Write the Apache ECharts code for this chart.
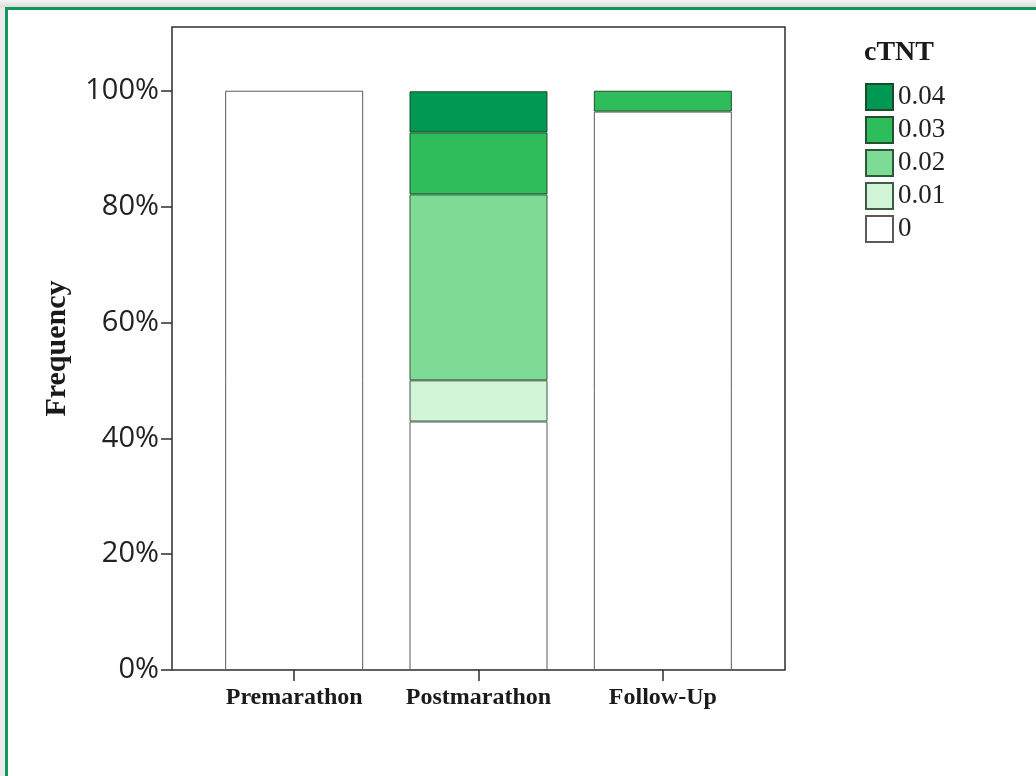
<!DOCTYPE html>
<html>
<head>
<meta charset="utf-8">
<script src="https://cdn.jsdelivr.net/npm/echarts@6/dist/echarts.min.js"></script>
<style>
  html, body { margin: 0; padding: 0; }
  body { width: 1036px; height: 776px; position: relative; overflow: hidden;
         background: linear-gradient(to bottom, #f4f4f4 0px, #dcdcdc 7px, #e9e9e9 8px); }
  #frame { position: absolute; left: 5px; top: 7px; width: 1031px; height: 769px;
           background: #fff; border-top: 3px solid #14955a; border-left: 3px solid #14955a; box-sizing: border-box; }
  #main { position: absolute; left: 0; top: 0; width: 1036px; height: 776px; }
</style>
</head>
<body>
<div id="frame"></div>
<div id="main"></div>
<script>
// ---- data (percent of runners in each cTNT class) ----
const categories = ['Premarathon', 'Postmarathon', 'Follow-Up'];
const levelNames = ['0', '0.01', '0.02', '0.03', '0.04'];
const pctLevel0   = [100, 42.9, 96.4];
const pctLevel001 = [0, 7.1, 0];
const pctLevel002 = [0, 32.1, 0];
const pctLevel003 = [0, 10.7, 3.6];
const pctLevel004 = [0, 7.1, 0];
const yTickValues = [0, 20, 40, 60, 80, 100];
const legendOrder = ['0.04', '0.03', '0.02', '0.01', '0'];

const levelValues = [pctLevel0, pctLevel001, pctLevel002, pctLevel003, pctLevel004];
const fillColors = ['#ffffff', '#d2f5d7', '#7edb96', '#2fbd5b', '#009953'];
const edgeColors = ['#5a5a5a', '#3d5e45', '#2c5a38', '#22502f', '#1e4a2c'];

const chart = echarts.init(document.getElementById('main'), null, { renderer: 'canvas' });

const series = levelNames.map((name, i) => ({
  name: name,
  type: 'bar',
  stack: 'cTNT',
  xAxisIndex: 1,
  yAxisIndex: 1,
  barWidth: 138,
  data: levelValues[i].map(v => (v === 0 ? '-' : v)),
  itemStyle: { color: fillColors[i], borderColor: edgeColors[i], borderWidth: 1 },
  emphasis: { disabled: true },
  animation: false
}));

const option = {
  backgroundColor: 'transparent',
  animation: false,
  title: {
    text: 'cTNT',
    left: 864, top: 39, padding: 0,
    textStyle: { fontFamily: 'Liberation Serif', fontWeight: 'bold', fontSize: 28, color: '#1a1a1a' }
  },
  legend: {
    orient: 'vertical',
    left: 865, top: 83, padding: 0,
    itemWidth: 27, itemHeight: 26, itemGap: 5,
    icon: 'rect',
    data: legendOrder,
    selectedMode: false,
    textStyle: { fontFamily: 'Liberation Serif', fontSize: 27, color: '#222' }
  },
  grid: [
    { left: 172, right: 251, top: 27, bottom: 106, show: true,
      borderColor: '#2e2e2e', borderWidth: 1.5, backgroundColor: 'transparent' },
    { left: 202, right: 281, top: 27, bottom: 106 }
  ],
  xAxis: [
    { gridIndex: 0, type: 'value', min: 0, max: 1, show: false },
    { gridIndex: 1, type: 'category', data: categories,
      axisLine: { show: false },
      axisTick: { show: true, alignWithLabel: true, length: 11, lineStyle: { color: '#2e2e2e', width: 1.5 } },
      axisLabel: { interval: 0, margin: 16, fontFamily: 'Liberation Serif', fontWeight: 'bold', fontSize: 24, color: '#1a1a1a' }
    }
  ],
  yAxis: [
    { gridIndex: 0, type: 'value', min: 0, max: 1, show: false },
    { gridIndex: 1, type: 'value', min: 0, max: 111, interval: 20, offset: 30,
      name: 'Frequency', nameLocation: 'middle', nameGap: 100,
      nameTextStyle: { fontFamily: 'Liberation Serif', fontWeight: 'bold', fontSize: 30, color: '#1a1a1a' },
      splitLine: { show: false },
      axisLine: { show: false },
      axisTick: { show: true, length: 11, customValues: yTickValues, lineStyle: { color: '#2e2e2e', width: 1.5 } },
      axisLabel: { margin: 13, customValues: yTickValues, formatter: v => v + '%',
        fontFamily: 'Open Sans', fontSize: 29, color: '#222' }
    }
  ],
  series: series
};
chart.setOption(option);
</script>
</body>
</html>
